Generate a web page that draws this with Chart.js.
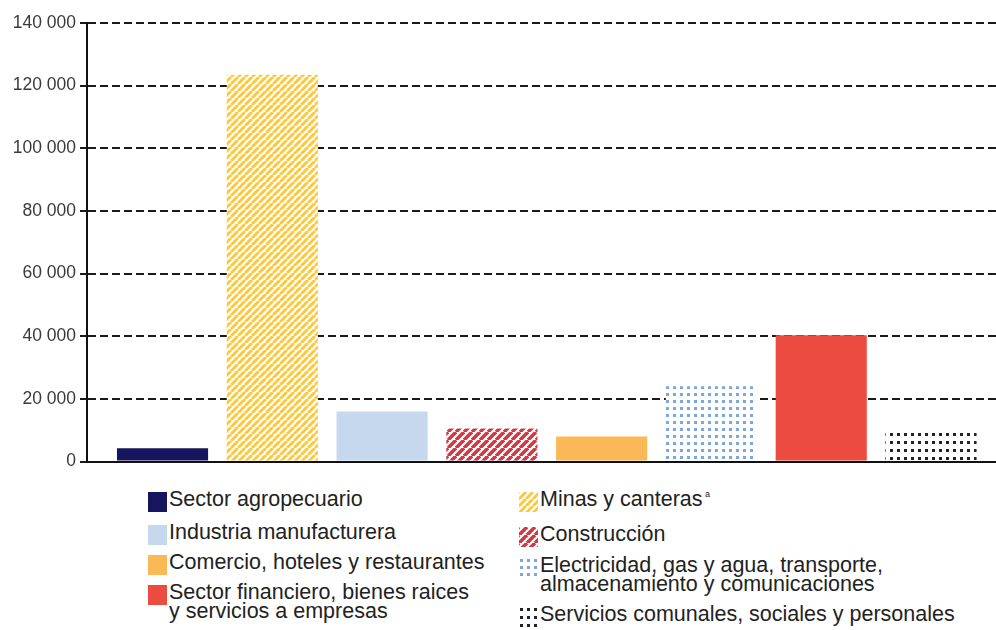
<!DOCTYPE html>
<html>
<head>
<meta charset="utf-8">
<script src="https://cdn.jsdelivr.net/npm/chart.js@4/dist/chart.umd.min.js"></script>
<style>
  body { margin: 0; background: #fff; width: 996px; height: 630px; overflow: hidden; position: relative; }
  #wrap { position: absolute; left: 0; top: 0; width: 996px; height: 476px; }
  .leg { position: absolute; font-family: "Liberation Sans", Arial, sans-serif; font-size: 21.5px; line-height: 19px; color: #222; white-space: pre; }
  .leg canvas { position: absolute; left: -21px; top: 2px; }
  .leg sup { font-size: 9px; vertical-align: 9px; line-height: 0; }
</style>
</head>
<body>
<div id="wrap"><canvas id="chjs_chart0"></canvas></div>
<div id="legend"></div>
<script>
// sectors, in bar order
const sectors = [
  "Sector agropecuario",
  "Minas y canteras",
  "Industria manufacturera",
  "Construcción",
  "Comercio, hoteles y restaurantes",
  "Electricidad, gas y agua, transporte,\nalmacenamiento y comunicaciones",
  "Sector financiero, bienes raices\ny servicios a empresas",
  "Servicios comunales, sociales y personales"
];
const notes = ["", "a", "", "", "", "", "", ""];
const values = [4200, 123500, 16000, 10500, 8000, 24000, 40300, 9800];
const yTicks = [0, 20000, 40000, 60000, 80000, 100000, 120000, 140000];

// fills: plain colour or a pattern
function stripes(color, size, width){
    const c = document.createElement('canvas');
    c.width = size; c.height = size;
    const x = c.getContext('2d');
    x.fillStyle = '#fff'; x.fillRect(0, 0, size, size);
    x.strokeStyle = color; x.lineWidth = width;
    for (let k = 0; k < 3; k++){
        x.beginPath();
        x.moveTo(k*size - size, size);
        x.lineTo(k*size, 0);
        x.stroke();
    }
    return c;
}
function dots(color, w, h, dw, dh){
    const c = document.createElement('canvas');
    c.width = w; c.height = h;
    const x = c.getContext('2d');
    x.fillStyle = '#fff'; x.fillRect(0, 0, w, h);
    x.fillStyle = color; x.fillRect(1, 1, dw, dh);
    return c;
}
const tiles = [
    null,
    stripes('#fdc93c', 7, 3),
    null,
    stripes('#cf3a46', 8, 3.5),
    null,
    dots('#7ba7dc', 7, 7, 3, 3),
    null,
    dots('#222222', 7, 8, 3, 3)
];
const plain = ['#15165e', null, '#c5d8ee', null, '#fbb856', null, '#ec4b3f', null];

const ctx = document.getElementById('chjs_chart0').getContext('2d');
const fills = tiles.map((t, i) => t ? ctx.createPattern(t, 'repeat') : plain[i]);

function fmt(v){
    return String(v).replace(/\B(?=(\d{3})+(?!\d))/g, ' ');
}

new Chart(ctx, {
    type: 'bar',
    data: {
        datasets: [{
            data: values.map((v, i) => ({x: i, y: v})),
            backgroundColor: fills,
            borderWidth: 0,
            barPercentage: 0.83,
            categoryPercentage: 1
        }]
    },
    options: {
        responsive: true,
        maintainAspectRatio: false,
        animation: false,
        layout: {padding: {top: 23, right: 0, bottom: 9, left: 0}},
        plugins: {legend: {display: false}, tooltip: {enabled: false}},
        scales: {
            x: {
                type: 'linear',
                offset: false,
                min: -0.688,
                max: 7.592,
                afterBuildTicks: (s) => { s.ticks = values.map((v, i) => ({value: i})); },
                ticks: {display: false},
                grid: {drawOnChartArea: false, drawTicks: false, offset: false},
                border: {display: true, color: '#111', width: 2}
            },
            y: {
                min: 0,
                max: 140000,
                afterBuildTicks: (s) => { s.ticks = yTicks.map(v => ({value: v})); },
                afterFit: (s) => { s.width = 87; },
                ticks: {
                    callback: (v) => fmt(v),
                    color: '#3a3a3a',
                    padding: 4,
                    font: {family: '"Liberation Sans", Arial, sans-serif', size: 17.5}
                },
                grid: {color: '#1a1a1a', lineWidth: 2, tickLength: 7, tickColor: '#1a1a1a'},
                border: {display: true, color: '#111', width: 2, dash: [8, 4]}
            }
        }
    }
});

// legend, two columns filled row by row
const legTops = [
    [490, 523, 553, 583],
    [490, 525, 556, 605]
];
const legLeft = [169, 540];
const legend = document.getElementById('legend');
sectors.forEach((name, i) => {
    const col = i % 2, row = Math.floor(i / 2);
    const d = document.createElement('div');
    d.className = 'leg';
    d.style.left = legLeft[col] + 'px';
    d.style.top = legTops[col][row] + 'px';
    const sw = document.createElement('canvas');
    sw.width = 19; sw.height = 20;
    const sx = sw.getContext('2d');
    sx.fillStyle = tiles[i] ? sx.createPattern(tiles[i], 'repeat') : plain[i];
    sx.fillRect(0, 0, 19, 20);
    d.appendChild(sw);
    d.appendChild(document.createTextNode(name));
    if (notes[i]){
        const s = document.createElement('sup');
        s.textContent = ' ' + notes[i];
        d.appendChild(s);
    }
    legend.appendChild(d);
});
</script>
</body>
</html>
